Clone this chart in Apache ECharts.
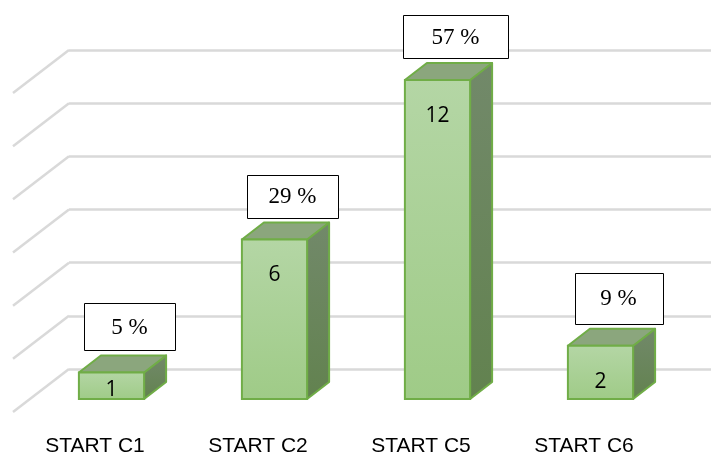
<!DOCTYPE html>
<html>
<head>
<meta charset="utf-8">
<script src="https://cdn.jsdelivr.net/npm/echarts@6/dist/echarts.min.js"></script>
<style>html,body{margin:0;padding:0;background:#fff;}#c{width:711px;height:454px;}</style>
</head>
<body>
<div id="c"></div>
<script>
const categories = ['START C1', 'START C2', 'START C5', 'START C6'];
const counts = [1, 6, 12, 2];
const percents = [5, 29, 57, 9];
const yTicks = [0, 2, 4, 6, 8, 10, 12];

// label box sizes (style)
const boxW = [91, 91, 105, 88];
const boxH = [47, 43, 43, 51];

const DX = 22, DY = -17;
const GRID_COLOR = '#d9d9d9';

const chart = echarts.init(document.getElementById('c'), null, {renderer: 'canvas'});

const option = {
  animation: false,
  backgroundColor: '#ffffff',
  grid: [
    {left: 69, right: 0, top: 50, height: 319, outerBoundsMode: 'none', containLabel: false},
    {left: 30, width: 652, top: 80, height: 319, outerBoundsMode: 'none', containLabel: false}
  ],
  xAxis: [
    {type: 'value', gridIndex: 0, min: 0, max: 1, show: false},
    {type: 'category', gridIndex: 1, data: categories,
     axisLine: {show: false}, axisTick: {show: false}, splitLine: {show: false},
     axisLabel: {fontSize: 21, color: '#000', fontFamily: 'Liberation Sans', margin: 37, padding: [0, 33, 0, 0]}}
  ],
  yAxis: [
    {type: 'value', gridIndex: 0, min: 0, max: 12, interval: 2,
     axisLabel: {show: false}, axisLine: {show: false}, axisTick: {show: false},
     splitLine: {show: true, lineStyle: {color: GRID_COLOR, width: 2.5}}},
    {type: 'value', gridIndex: 1, min: 0, max: 12, interval: 2, show: false, splitLine: {show: false}}
  ],
  series: [
    {
      type: 'custom', xAxisIndex: 0, yAxisIndex: 0, silent: true,
      data: yTicks.map(v => [0, v]),
      renderItem: function (params, api) {
        const p = api.coord([0, api.value(1)]);
        return {type: 'line', shape: {x1: p[0], y1: p[1], x2: p[0] - 56, y2: p[1] + 43},
                style: {stroke: GRID_COLOR, lineWidth: 2.5}};
      }
    },
    {
      type: 'custom', xAxisIndex: 1, yAxisIndex: 1, silent: true,
      data: counts.map((v, i) => [i, v]),
      renderItem: function (params, api) {
        const i = params.dataIndex;
        const v = api.value(1);
        const p0 = api.coord([api.value(0), 0]);
        const p1 = api.coord([api.value(0), v]);
        const hw = api.size([1, 0])[0] * 0.4 / 2;
        const L = p0[0] - hw, R = p0[0] + hw, T = p1[1], B = p0[1];
        const stroke = '#70ad47';
        const children = [
          {type: 'polygon', shape: {points: [[R, T], [R + DX, T + DY], [R + DX, B + DY], [R, B]]},
           style: {fill: new echarts.graphic.LinearGradient(0, 0, 0, 1, [{offset: 0, color: '#72896a'}, {offset: 1, color: '#62824f'}]),
                   stroke: stroke, lineWidth: 2, lineJoin: 'round'}},
          {type: 'polygon', shape: {points: [[L, T], [L + DX, T + DY], [R + DX, T + DY], [R, T]]},
           style: {fill: '#8ba67d', stroke: stroke, lineWidth: 2, lineJoin: 'round'}},
          {type: 'rect', shape: {x: L, y: T, width: R - L, height: B - T},
           style: {fill: new echarts.graphic.LinearGradient(0, 0, 0, 1, [{offset: 0, color: '#b4d6a5'}, {offset: 1, color: '#9fcb87'}]),
                   stroke: stroke, lineWidth: 2}},
          {type: 'text', style: {text: String(v), x: p0[0], y: Math.min(T + 36, B - 9),
            align: 'center', verticalAlign: 'middle', fontSize: 21, fontFamily: 'Open Sans', fill: '#000'}}
        ];
        const cx = p0[0] + 18;
        const bb = T + DY - 5;
        const w = boxW[i], h = boxH[i];
        children.push({type: 'rect', shape: {x: Math.round(cx - w / 2) + 0.5, y: Math.round(bb - h) + 0.5, width: w, height: h},
          style: {fill: '#fff', stroke: '#000', lineWidth: 1}});
        children.push({type: 'text', style: {text: percents[i] + ' %', x: cx, y: bb - h / 2 + 1,
          align: 'center', verticalAlign: 'middle', fontSize: 23, fontFamily: 'Liberation Serif', fill: '#000'}});
        return {type: 'group', children: children};
      }
    }
  ]
};
chart.setOption(option);
</script>
</body>
</html>
